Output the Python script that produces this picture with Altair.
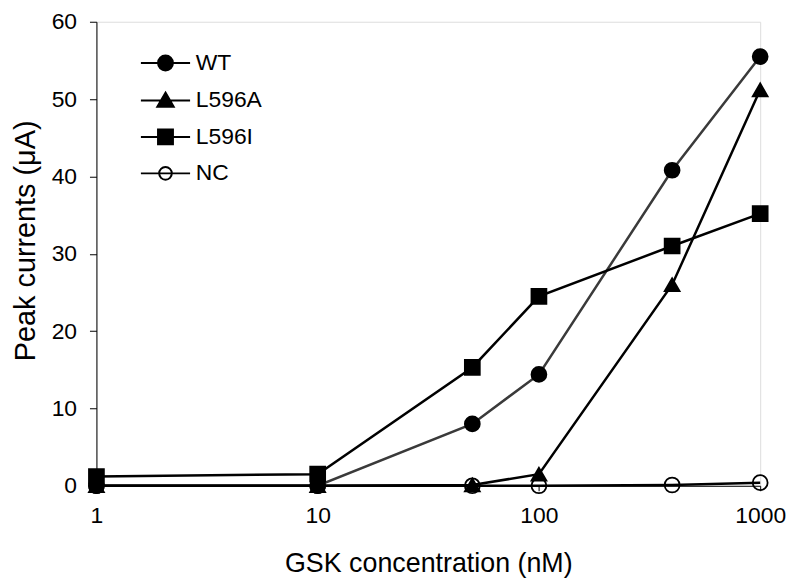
import altair as alt
import pandas as pd

conc = [1, 10, 50, 100, 400, 1000]
series_names = ["WT", "L596A", "L596I", "NC"]
wt = [0.0, 0.0, 8.0, 14.4, 40.8, 55.5]
l596a = [0.0, 0.0, 0.1, 1.5, 26.0, 51.2]
l596i = [1.2, 1.5, 15.3, 24.5, 31.0, 35.2]
nc = [0.0, 0.0, 0.0, 0.0, 0.1, 0.4]

values = {"WT": wt, "L596A": l596a, "L596I": l596i, "NC": nc}
rows = []
for s in series_names:
    for c, v in zip(conc, values[s]):
        rows.append({"conc": c, "current": v, "series": s})
df = pd.DataFrame(rows)

FONT = "Liberation Sans"

x_enc = alt.X("conc:Q",
              scale=alt.Scale(type="log", domain=[1, 1000], nice=False),
              axis=alt.Axis(title="GSK concentration (nM)", values=[1, 10, 100, 1000],
                            format="d", grid=False, domainColor="black", tickColor="black",
                            tickSize=5, labelFontSize=23, labelPadding=14, labelFlush=False,
                            titleFontSize=27, titleFontWeight="normal", titlePadding=23,
                            labelColor="black", titleColor="black"))
y_enc = alt.Y("current:Q",
              scale=alt.Scale(domain=[0, 60], nice=False),
              axis=alt.Axis(title="Peak currents (\u03bcA)", values=[0, 10, 20, 30, 40, 50, 60],
                            grid=False, domainColor="black", tickColor="black",
                            tickSize=7, labelFontSize=23, labelPadding=13, labelFlush=False,
                            titleFontSize=29, titleFontWeight="normal", titlePadding=11,
                            titleY=220,
                            labelColor="black", titleColor="black"))

line_colors = ["#3a3a3a", "black", "black", "black"]
lines = alt.Chart(df).mark_line(strokeWidth=2.5).encode(
    x=x_enc, y=y_enc,
    detail="series:N",
    color=alt.Color("series:N", scale=alt.Scale(domain=series_names, range=line_colors), legend=None),
    order="conc:Q",
)

points = alt.Chart(df).mark_point(filled=False, size=225, strokeWidth=1.8, stroke="black", opacity=1).encode(
    x="conc:Q", y="current:Q",
    shape=alt.Shape("series:N", scale=alt.Scale(domain=series_names,
                                                range=["circle", "triangle-up", "square", "circle"]),
                    legend=None),
    fill=alt.Fill("series:N", scale=alt.Scale(domain=series_names,
                                              range=["black", "black", "black", "transparent"]),
                  legend=None),
)

legend_paths = [
    "M-3.3,0H3.3M1,0A1,1,0,1,1,-1,0A1,1,0,1,1,1,0Z",
    "M-3.3,0H3.3M0,-1.05L1.1,0.85H-1.1Z",
    "M-3.3,0H3.3M-1,-1H1V1H-1Z",
    "M-3.3,0H3.3M0.85,0A0.85,0.85,0,1,1,-0.85,0A0.85,0.85,0,1,1,0.85,0Z",
]
leg = alt.Legend(title=None, orient="none", legendX=58, legendY=30, labelFontSize=23,
                 labelColor="black", labelFont=FONT, symbolSize=225, symbolStrokeWidth=2,
                 symbolStrokeColor="black", symbolOpacity=1, labelOffset=19, rowPadding=12.7,
                 padding=0)
legend_layer = alt.Chart(df).transform_filter("datum.current < -999").mark_point(
    filled=False, stroke="black", strokeWidth=2, opacity=1).encode(
    x="conc:Q", y="current:Q",
    shape=alt.Shape("series:N", scale=alt.Scale(domain=series_names, range=legend_paths), legend=leg),
    fill=alt.Fill("series:N", scale=alt.Scale(domain=series_names,
                                              range=["black", "black", "black", "transparent"]),
                  legend=leg),
    stroke=alt.Stroke("series:N", scale=alt.Scale(domain=series_names,
                                                  range=["black", "black", "black", "black"]),
                      legend=leg),
)

chart = alt.layer(lines, points, legend_layer).resolve_scale(
    shape="independent", fill="independent", stroke="independent"
).properties(
    width=668, height=467,
    autosize=alt.AutoSizeParams(type="none"),
    padding={"left": 89, "top": 12, "right": 28, "bottom": 93},
).configure_view(stroke=None).configure(font=FONT).configure_axis(
    labelFont=FONT, titleFont=FONT
)

chart.save("out.html", embed_options={"renderer": "svg", "actions": False})
